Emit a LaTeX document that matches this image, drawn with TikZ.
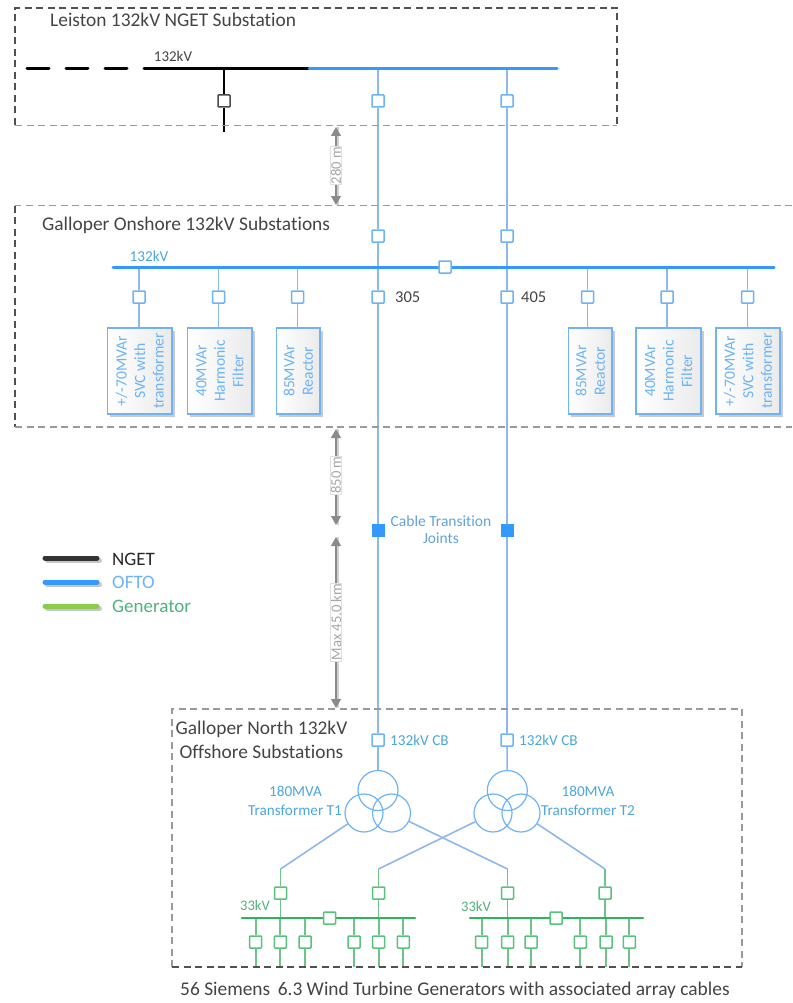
\documentclass[tikz,border=0pt]{standalone}
\usepackage{fontspec}
\setmainfont[Ligatures=NoCommon]{Carlito}
\usetikzlibrary{arrows.meta,shadows,backgrounds}
\definecolor{ofto}{HTML}{3399FF}
\definecolor{oftoline}{HTML}{8DB9EA}
\definecolor{oftobox}{HTML}{6DB3F7}
\definecolor{oftotxt}{HTML}{4BA6DC}
\definecolor{gen}{HTML}{2DB35A}
\definecolor{genline}{HTML}{6FC48A}
\definecolor{gentxt}{HTML}{4FB37A}
\definecolor{legreen}{HTML}{8ACB50}
\definecolor{txt}{HTML}{444444}
\definecolor{dashdark}{HTML}{505050}
\definecolor{dashgrey}{HTML}{9A9A9A}
\definecolor{dimgrey}{HTML}{8A8A8A}
\tikzset{
  brk/.style={draw,fill=white,minimum size=12pt,inner sep=0pt,line width=1.5pt,rounded corners=0.8pt},
  bb/.style={brk,draw=oftobox},
  bk/.style={brk,draw=black!70},
  bg/.style={brk,draw=gen!80},
  joint/.style={draw=ofto,fill=ofto,minimum size=12pt,inner sep=0pt},
  equip/.style={draw=oftobox,line width=1pt,left color=white,right color=black!8,inner sep=0pt,
     drop shadow={shadow xshift=2.5pt,shadow yshift=-2.5pt,fill=black!35,opacity=.6}},
  eqtxt/.style={text=oftobox,font=\fontsize{15.6}{18.5}\selectfont,align=center,rotate=90},
  title/.style={text=txt,font=\fontsize{19.4}{24}\selectfont,inner sep=0pt,anchor=west},
  lab/.style={text=oftotxt,font=\fontsize{15.2}{17}\selectfont,inner sep=0pt},
  glab/.style={text=gentxt,font=\fontsize{14.6}{17}\selectfont,inner sep=0pt},
  dimline/.style={dimgrey,line width=1.3pt,{Triangle[length=9pt,width=10pt]}-{Triangle[length=9pt,width=10pt]}},
  dimshadow/.style={black!18,line width=1.6pt},
  dimlab/.style={draw=black!12,fill=white,rotate=90,text=dimgrey!75,font=\fontsize{14.6}{15}\selectfont,inner xsep=0.5pt,inner ysep=0.5pt},
  darkdash/.style={dashdark,line width=1.2pt,dash pattern=on 7pt off 4.5pt},
  greydash/.style={dashgrey,line width=1.6pt,dash pattern=on 7pt off 4.5pt},
  feeder/.style={oftoline,line width=1.6pt},
  gline/.style={genline,line width=1.8pt},
  ofbus/.style={ofto,line width=3pt,line cap=round},
  gbus/.style={gen,line width=2.2pt,line cap=round},
  tx/.style={circle,draw=oftobox,line width=1.2pt,inner sep=0pt},
  legline/.style={line width=5pt,line cap=round}
}
\begin{document}
\begin{tikzpicture}[x=1pt,y=-1pt]
\useasboundingbox (0,0) rectangle (792,1003);
% substation frames
\draw[darkdash] (15,125) -- (15,8) -- (617,8) -- (617,125);
\draw[greydash] (15,125.5) -- (617,125.5);
\draw[greydash] (792,205.5) -- (15,205.5);
\draw[darkdash] (15,205.5) -- (15,427);
\draw[greydash] (15,427) -- (792,427);
\draw[greydash] (172,967) -- (172,709) -- (742,709) -- (742,967);
\draw[darkdash] (172,967) -- (742,967);
% titles
\node[title] (t1) at (50,20) {Leiston 132kV NGET Substation};
\node[title] (t2) at (42,225.5) {Galloper Onshore 132kV Substations};
\node[title,align=center,anchor=north west] (t3) at (175.5,720.5) {Galloper North 132kV\\Offshore Substations};
\node[title] (t4) at (180,990) {56 Siemens\, 6.3 Wind Turbine Generators with associated array cables};
% upper bus
\coordinate (b1a) at (27,69);
\coordinate (b1b) at (145,69);
\coordinate (b1c) at (309,69);
\coordinate (b1d) at (557,69);
\coordinate (b1e) at (224,69);
\coordinate (b1f) at (224,132);
\coordinate (af) at (378,69);
\coordinate (bf) at (507,69);
\draw[black,line width=3pt,line cap=round,dash pattern=on 22pt off 17pt] (b1a) -- (b1b);
\draw[black,line width=3pt] (b1b) -- (b1c);
\draw[ofbus] (b1c) -- (b1d);
\node[font=\fontsize{15}{17}\selectfont,text=txt,inner sep=0pt] (v1) at (173,56) {132kV};
% breakers on feeders
\node[bk] (k0) at (224,101) {};
\node[bb] (a1) at (378,101) {};
\node[bb] (b1) at (507,101) {};
\node[bb] (a2) at (378,236) {};
\node[bb] (b2) at (507,236) {};
\node[bb] (a3) at (378,297) {};
\node[bb] (b3) at (507,297) {};
\node[joint] (a4) at (378,530) {};
\node[joint] (b4) at (507,530) {};
\node[bb] (a5) at (378,740) {};
\node[bb] (b5) at (507,740) {};
% onshore bus
\coordinate (b2a) at (113,267);
\coordinate (b2b) at (774,267);
\draw[ofbus] (b2a) -- (b2b);
\node[bb] (bc) at (445,267) {};
\node[lab] (v2) at (149,256) {132kV};
\node[text=txt,font=\fontsize{16.5}{18}\selectfont,inner sep=0pt,anchor=west] (l305) at (395,297) {305};
\node[text=txt,font=\fontsize{16.5}{18}\selectfont,inner sep=0pt,anchor=west] (l405) at (521,297) {405};
% shunt equipment
\foreach \n/\x/\l/\r/\t in {
  s1/139/107.5/172/{+/-70MVAr\\SVC with\\transformer},
  s2/218.5/187.5/252/{40MVAr\\Harmonic\\Filter},
  s3/297.5/276.5/320/{85MVAr\\Reactor},
  s4/587.5/568.5/612/{85MVAr\\Reactor},
  s5/667/636/701/{40MVAr\\Harmonic\\Filter},
  s6/747.5/716/780/{+/-70MVAr\\SVC with\\transformer}}{
  \coordinate (\n top) at (\x,267);
  \node[bb] (\n b) at (\x,297) {};
  \coordinate (\n ll) at (\l,328);
  \coordinate (\n ur) at (\r,414);
  \path[equip] (\n ll) rectangle (\n ur);
  \draw[draw=oftobox,line width=1.2pt] (\n ll) rectangle (\n ur);
  \node[eqtxt] (\n t) at ({(\l+\r)/2},371) {\t};
  \coordinate (\n e) at (\x,328);
  \begin{scope}[on background layer]
    \draw[feeder] (\n top) -- (\n b) -- (\n e);
  \end{scope}
}
% cable joints text
\node[lab,align=center,text=oftobox!90!black,font=\fontsize{15.5}{17.5}\selectfont] (cj) at (441,529.5) {Cable Transition\\Joints};
% dimensions
\coordinate (d1a) at (336,127); \coordinate (d1b) at (336,205);
\coordinate (d2a) at (336,429); \coordinate (d2b) at (336,525);
\coordinate (d3a) at (336,537); \coordinate (d3b) at (336,708);
\foreach \p/\q in {d1a/d1b,d2a/d2b,d3a/d3b}{
  \draw[dimshadow] ([xshift=2pt]\p) -- ([xshift=2pt]\q);
  \draw[dimline] (\p) -- (\q);
}
\node[dimlab] (dl1) at (336,165.5) {280 m};
\node[dimlab] (dl2) at (336,475) {850 m};
\node[dimlab] (dl3) at (336,622) {Max 45.0 km};
% legend
\coordinate (la) at (45,558); \coordinate (lb) at (97,558);
\coordinate (lc) at (45,582); \coordinate (ld) at (97,582);
\coordinate (le) at (45,606); \coordinate (lf) at (97,606);
\foreach \p/\q/\c in {la/lb/black!80,lc/ld/ofto,le/lf/legreen}{
  \draw[legline,black!22] ([shift={(2.5,2.5)}]\p) -- ([shift={(2.5,2.5)}]\q);
  \draw[legline,\c] (\p) -- (\q);
}
\node[text=black!85,font=\fontsize{19}{21}\selectfont,inner sep=0pt,anchor=west] (lg1) at (112,559) {NGET};
\node[text=oftobox,font=\fontsize{19}{21}\selectfont,inner sep=0pt,anchor=west] (lg2) at (112,582) {OFTO};
\node[text=gentxt,font=\fontsize{19}{21}\selectfont,inner sep=0pt,anchor=west] (lg3) at (112,606) {Generator};
% offshore labels
\node[lab,anchor=west] (cb1) at (390,740) {132kV CB};
\node[lab,anchor=west] (cb2) at (519,740) {132kV CB};
\node[lab] (m1) at (295.5,791) {180MVA};
\node[lab] (m2) at (295,810) {Transformer T1};
\node[lab] (m3) at (588,791) {180MVA};
\node[lab] (m4) at (588,810) {Transformer T2};
% transformers
\node[tx,minimum size=40pt] (t1t) at (378,790.5) {};
\node[tx,minimum size=38pt] (t1l) at (364,813) {};
\node[tx,minimum size=38pt] (t1r) at (391.5,813) {};
\node[tx,minimum size=40pt] (t2t) at (507.3,790.5) {};
\node[tx,minimum size=38pt] (t2l) at (493,813) {};
\node[tx,minimum size=38pt] (t2r) at (521,813) {};
% offshore green
\coordinate (g1) at (280.5,869);
\coordinate (g2) at (378.5,869);
\coordinate (g3) at (507.5,869);
\coordinate (g4) at (605,869);
\node[bg] (h1) at (280.5,893) {};
\node[bg] (h2) at (378.5,893) {};
\node[bg] (h3) at (507.5,893) {};
\node[bg] (h4) at (605,893) {};
\coordinate (bl1) at (242,918); \coordinate (bl2) at (415,918);
\coordinate (bl3) at (470,918); \coordinate (bl4) at (643,918);
\draw[gbus] (bl1) -- (bl2);
\draw[gbus] (bl3) -- (bl4);
\node[bg] (c1) at (329.5,918) {};
\node[bg] (c2) at (556,918) {};
\node[glab] (k1) at (255,905) {33kV};
\node[glab] (k2) at (476,906) {33kV};
\foreach \i/\x in {1/255.7,2/280.3,3/305,4/354,5/378.7,6/403.3,7/481.7,8/507.7,9/531,10/580.3,11/606,12/629.3}{
  \coordinate (u\i) at (\x,918);
  \coordinate (w\i) at (\x,967);
  \node[bg] (q\i) at (\x,942) {};
  \begin{scope}[on background layer]
    \draw[gline] (u\i) -- (q\i) -- (w\i);
  \end{scope}
}
\coordinate (e1) at (280.5,918);
\coordinate (e2) at (378.5,918);
\coordinate (e3) at (507.5,918);
\coordinate (e4) at (605,918);
\begin{scope}[on background layer]
  \draw[black,line width=1.4pt] (b1e) -- (k0) -- (b1f);
  \draw[feeder] (af) -- (a1) -- (a2) -- (a3) -- (a4) -- (a5) -- (t1t);
  \draw[feeder] (bf) -- (b1) -- (b2) -- (b3) -- (b4) -- (b5) -- (t2t);
  \draw[feeder] (t1l) -- (g1);
  \draw[feeder] (t1r) -- (g3);
  \draw[feeder] (t2l) -- (g2);
  \draw[feeder] (t2r) -- (g4);
  \draw[gline] (g1) -- (h1) -- (e1);
  \draw[gline] (g2) -- (h2) -- (e2);
  \draw[gline] (g3) -- (h3) -- (e3);
  \draw[gline] (g4) -- (h4) -- (e4);
\end{scope}
\end{tikzpicture}
\end{document}
